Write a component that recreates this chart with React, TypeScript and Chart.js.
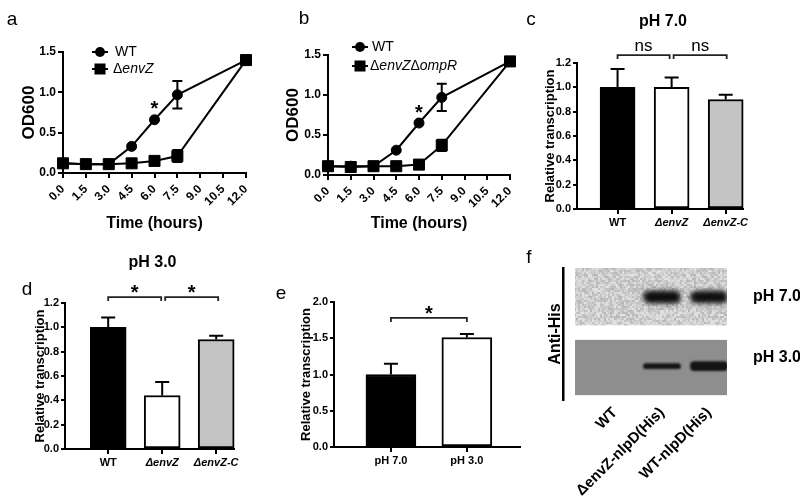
import React, { useEffect, useRef } from 'react';
import { Chart, registerables } from 'chart.js';
Chart.register(...registerables);

const FONT = '"Liberation Sans", Arial, Helvetica, sans-serif';
Chart.defaults.font.family = FONT;
Chart.defaults.color = '#000';

// ---------------- data: panels a / b (growth curves) ----------------
const timeHours = [0, 1.5, 3, 4.5, 6, 7.5, 12];
const timeTicks = [0, 1.5, 3, 4.5, 6, 7.5, 9, 10.5, 12];
const odTicks = [0, 0.5, 1.0, 1.5];

const wtOD_a = [0.12, 0.11, 0.11, 0.33, 0.66, 0.97, 1.4];
const wtErr_a = [0, 0, 0, 0, 0, 0.17, 0];
const envZOD_a = [0.12, 0.11, 0.11, 0.12, 0.15, 0.21, 1.4];
const envZErr_a = [0, 0, 0, 0, 0, 0.075, 0];
const starA = [{ x: 6, y: 0.86 }];

const wtOD_b = [0.11, 0.11, 0.11, 0.31, 0.65, 0.97, 1.42];
const wtErr_b = [0, 0, 0, 0, 0, 0.17, 0];
const dkOD_b = [0.11, 0.1, 0.11, 0.11, 0.13, 0.37, 1.42];
const dkErr_b = [0, 0, 0, 0, 0, 0.07, 0];
const starB = [{ x: 6, y: 0.85 }];

// ---------------- data: panels c / d / e (bars) ----------------
const strainCats = ['WT', 'ΔenvZ', 'ΔenvZ-C'];
const relTicks12 = [0, 0.2, 0.4, 0.6, 0.8, 1.0, 1.2];
const ph7Values = [1.0, 1.0, 0.9];
const ph7Err = [0.15, 0.08, 0.04];
const ph3Values = [1.0, 0.44, 0.9];
const ph3Err = [0.08, 0.11, 0.03];
const strainFills = ['#000000', '#ffffff', '#c4c4c4'];

const phCats = ['pH 7.0', 'pH 3.0'];
const relTicks2 = [0, 0.5, 1.0, 1.5, 2.0];
const nlpdValues = [1.0, 1.51];
const nlpdErr = [0.15, 0.05];
const phFills = ['#000000', '#ffffff'];

// ---------------- data: panel f (western blot) ----------------
const laneLabels = ['WT', 'ΔenvZ-nlpD(His)', 'WT-nlpD(His)'];
const blotConditions = ['pH 7.0', 'pH 3.0'];
const bandPH7 = [0, 1.0, 0.95];
const bandPH3 = [0, 0.42, 0.72];

// ---------------- helpers ----------------
type Box = { left: number; top: number; width: number; height: number };
const fixedWidth = (w: number) => (s: any) => { s.width = w; };
const fixedHeight = (h: number) => (s: any) => { s.height = h; };
const setTicks = (vals: number[]) => (s: any) => { s.ticks = vals.map((v) => ({ value: v })); };
const fnt = (size: number, weight = 'normal', italic = false) =>
  `${italic ? 'italic ' : ''}${weight} ${size}px ${FONT}`;

type Part = { t: string; i?: boolean };
function drawParts(ctx: any, parts: Part[], x: number, y: number, size: number, weight = 'normal') {
  let cx = x;
  parts.forEach((p) => {
    ctx.font = fnt(size, weight, !!p.i);
    ctx.fillText(p.t, cx, y);
    cx += ctx.measureText(p.t).width;
  });
}

const errorBars = {
  id: 'errorBars',
  afterDatasetsDraw(chart: any) {
    const ctx = chart.ctx;
    chart.data.datasets.forEach((ds: any, di: number) => {
      if (!ds.errors) return;
      const meta = chart.getDatasetMeta(di);
      const ys = chart.scales[meta.yAxisID];
      ctx.save();
      ctx.strokeStyle = '#000';
      ctx.lineWidth = ds.errWidth || 2;
      meta.data.forEach((el: any, i: number) => {
        const e = ds.errors[i];
        if (!e) return;
        const v = ds.data[i].y;
        const x = el.x;
        const top = ys.getPixelForValue(v + e);
        const bot = ds.errUp ? ys.getPixelForValue(v) : ys.getPixelForValue(v - e);
        const c = ds.errCap || 5;
        ctx.beginPath();
        ctx.moveTo(x, top);
        ctx.lineTo(x, bot);
        ctx.moveTo(x - c, top);
        ctx.lineTo(x + c, top);
        if (!ds.errUp) {
          ctx.moveTo(x - c, bot);
          ctx.lineTo(x + c, bot);
        }
        ctx.stroke();
      });
      ctx.restore();
    });
  },
};

type Bracket = { from: number; to: number; y: number; label: string; dl?: number; dr?: number };
type Marks = {
  title?: { text: string; dx: number; y: number };
  brackets?: Bracket[];
  stars?: { x: number; y: number }[];
  legend?: { x: number; y: number; textX: number; ds: number; parts: Part[] }[];
};

function makeMarks(m: Marks) {
  return {
    id: 'marks',
    afterDraw(chart: any) {
      const ctx = chart.ctx;
      const xs = chart.scales.x;
      const ys = chart.scales.y;
      const ca = chart.chartArea;
      ctx.save();
      ctx.fillStyle = '#000';
      if (m.title) {
        ctx.font = fnt(16, 'bold');
        ctx.textAlign = 'center';
        ctx.textBaseline = 'middle';
        ctx.fillText(m.title.text, (ca.left + ca.right) / 2 + m.title.dx, m.title.y);
      }
      (m.brackets || []).forEach((b) => {
        const x1 = xs.getPixelForValue(b.from) + (b.dl || 0);
        const x2 = xs.getPixelForValue(b.to) + (b.dr || 0);
        const y = ys.getPixelForValue(b.y);
        ctx.strokeStyle = '#222';
        ctx.lineWidth = 1.8;
        ctx.beginPath();
        ctx.moveTo(x1, y + 4);
        ctx.lineTo(x1, y);
        ctx.lineTo(x2, y);
        ctx.lineTo(x2, y + 4);
        ctx.stroke();
        ctx.textAlign = 'center';
        ctx.textBaseline = 'alphabetic';
        if (b.label === '*') {
          ctx.font = fnt(20, 'bold');
          ctx.fillText('*', (x1 + x2) / 2, y + 2);
        } else {
          ctx.font = fnt(17, 'normal');
          ctx.fillText(b.label, (x1 + x2) / 2, y - 4);
        }
      });
      (m.stars || []).forEach((s) => {
        ctx.font = fnt(20, 'bold');
        ctx.textAlign = 'center';
        ctx.textBaseline = 'alphabetic';
        ctx.fillText('*', xs.getPixelForValue(s.x), ys.getPixelForValue(s.y) + 11.5);
      });
      (m.legend || []).forEach((l) => {
        const ds = chart.data.datasets[l.ds];
        ctx.strokeStyle = '#000';
        ctx.lineWidth = 2;
        ctx.beginPath();
        ctx.moveTo(l.x - 8, l.y);
        ctx.lineTo(l.x + 8, l.y);
        ctx.stroke();
        ctx.fillStyle = '#000';
        if (ds.pointStyle === 'rect') {
          ctx.fillRect(l.x - 5.5, l.y - 5.5, 11, 11);
        } else {
          ctx.beginPath();
          ctx.arc(l.x, l.y, 5, 0, Math.PI * 2);
          ctx.fill();
        }
        ctx.textAlign = 'left';
        ctx.textBaseline = 'middle';
        drawParts(ctx, l.parts, l.textX, l.y, 14, 'normal');
      });
      ctx.restore();
    },
  };
}

// ---------------- chart configs ----------------
type Series = { label: string; values: number[]; errors: number[]; pointStyle: string; radius: number; order: number };

function lineConfig(series: Series[], pad: any, yW: number, xH: number, marks: Marks) {
  return {
    type: 'line',
    data: {
      datasets: series.map((s) => ({
        label: s.label,
        data: timeHours.map((t, i) => ({ x: t, y: s.values[i] })),
        errors: s.errors,
        errCap: 5,
        order: s.order,
        borderColor: '#000',
        backgroundColor: '#000',
        borderWidth: 2,
        pointStyle: s.pointStyle,
        pointRadius: s.radius,
        pointBackgroundColor: '#000',
        pointBorderColor: '#000',
        pointBorderWidth: 1,
        tension: 0,
        clip: false,
      })),
    },
    options: {
      animation: false,
      responsive: false,
      events: [],
      layout: { padding: pad },
      plugins: { legend: { display: false }, tooltip: { enabled: false }, title: { display: false } },
      scales: {
        x: {
          type: 'linear',
          min: 0,
          max: 12,
          afterBuildTicks: setTicks(timeTicks),
          afterFit: fixedHeight(xH),
          ticks: {
            callback: (v: any) => Number(v).toFixed(1),
            minRotation: 45,
            maxRotation: 45,
            autoSkip: false,
            padding: 4,
            font: { size: 12, weight: 'bold' },
          },
          grid: { drawOnChartArea: false, color: '#000', lineWidth: 2, tickLength: 5 },
          border: { color: '#000', width: 2 },
          title: { display: true, text: 'Time (hours)', font: { size: 16, weight: 'bold' }, padding: { top: 4, bottom: 4 } },
        },
        y: {
          type: 'linear',
          min: 0,
          max: 1.5,
          afterBuildTicks: setTicks(odTicks),
          afterFit: fixedWidth(yW),
          ticks: { callback: (v: any) => Number(v).toFixed(1), padding: 2, font: { size: 12, weight: 'bold' } },
          grid: { drawOnChartArea: false, color: '#000', lineWidth: 2, tickLength: 5 },
          border: { color: '#000', width: 2 },
          title: { display: true, text: 'OD600', font: { size: 17, weight: 'bold' }, padding: { top: 4, bottom: 4 } },
        },
      },
    },
    plugins: [errorBars, makeMarks(marks)],
  };
}

type BarSpec = {
  cats: string[];
  values: number[];
  errs: number[];
  fills: string[];
  italic: boolean[];
  yMax: number;
  yTicks: number[];
  xMin: number;
  xMax: number;
  barPx: number;
  pad: any;
  yW: number;
  xH: number;
  marks: Marks;
};

function barConfig(b: BarSpec) {
  return {
    type: 'bar',
    data: {
      datasets: [
        {
          label: 'Relative transcription',
          data: b.values.map((v, i) => ({ x: i, y: v })),
          errors: b.errs,
          errUp: true,
          errCap: 7,
          backgroundColor: b.fills,
          borderColor: '#000',
          borderWidth: 2,
          borderSkipped: false,
          barThickness: b.barPx,
          clip: false,
        },
      ],
    },
    options: {
      animation: false,
      responsive: false,
      events: [],
      layout: { padding: b.pad },
      plugins: { legend: { display: false }, tooltip: { enabled: false }, title: { display: false } },
      scales: {
        x: {
          type: 'linear',
          offset: false,
          min: b.xMin,
          max: b.xMax,
          afterBuildTicks: setTicks(b.cats.map((_, i) => i)),
          afterFit: fixedHeight(b.xH),
          ticks: {
            callback: (_v: any, i: number) => b.cats[i],
            maxRotation: 0,
            minRotation: 0,
            autoSkip: false,
            padding: 2,
            font: (c: any) => ({ size: 11, weight: 'bold', style: b.italic[c.index] ? 'italic' : 'normal' }),
          },
          grid: { offset: false, drawOnChartArea: false, color: '#000', lineWidth: 2, tickLength: 5 },
          border: { color: '#000', width: 2 },
        },
        y: {
          type: 'linear',
          min: 0,
          max: b.yMax,
          afterBuildTicks: setTicks(b.yTicks),
          afterFit: fixedWidth(b.yW),
          ticks: { callback: (v: any) => Number(v).toFixed(1), padding: 2, font: { size: 11, weight: 'bold' } },
          grid: { drawOnChartArea: false, color: '#000', lineWidth: 2, tickLength: 4 },
          border: { color: '#000', width: 2 },
          title: { display: true, text: 'Relative transcription', font: { size: 13, weight: 'bold' }, padding: { top: 4, bottom: 4 } },
        },
      },
    },
    plugins: [errorBars, makeMarks(b.marks)],
  };
}

// blot layout (rows of the membrane in row units, lanes in lane units)
const rowCenters = [0, 1];
const rowLabelPos = [0, 0.88];
const bandHalf = 0.09;
const blotRects = [
  { from: -0.42, to: 0.41, texture: true, color: '#cccccc' },
  { from: 0.62, to: 1.42, texture: false, color: '#8e8e8e' },
];
const blotLeft = -0.85;

let noiseCanvas: HTMLCanvasElement | null = null;
function getNoise() {
  if (noiseCanvas) return noiseCanvas;
  const w = 98;
  const h = 62;
  const c = document.createElement('canvas');
  c.width = w;
  c.height = h;
  const g = c.getContext('2d')!;
  const img = g.createImageData(w, h);
  for (let j = 0; j < h; j++) {
    for (let i = 0; i < w; i++) {
      const bi = Math.floor(i / 2);
      const bj = Math.floor(j / 2);
      const s = Math.sin(bi * 12.9898 + bj * 78.233) * 43758.5453;
      const f = s - Math.floor(s);
      const v = Math.round(182 + f * 46);
      const k = (j * w + i) * 4;
      img.data[k] = v;
      img.data[k + 1] = v;
      img.data[k + 2] = v;
      img.data[k + 3] = 255;
    }
  }
  g.putImageData(img, 0, 0);
  noiseCanvas = c;
  return c;
}

const blotPlugin = {
  id: 'blot',
  beforeDatasetsDraw(chart: any) {
    const ctx = chart.ctx;
    const xs = chart.scales.x;
    const ys = chart.scales.y;
    const x1 = xs.getPixelForValue(blotLeft);
    const x2 = chart.chartArea.right;
    ctx.save();
    blotRects.forEach((r) => {
      const y1 = ys.getPixelForValue(r.from);
      const y2 = ys.getPixelForValue(r.to);
      if (r.texture) {
        const p = ctx.createPattern(getNoise(), 'repeat');
        ctx.fillStyle = p || r.color;
      } else {
        ctx.fillStyle = r.color;
      }
      ctx.fillRect(x1, Math.min(y1, y2), x2 - x1, Math.abs(y2 - y1));
    });
    ctx.restore();
  },
  beforeDatasetDraw(chart: any, args: any) {
    const ds = chart.data.datasets[args.index];
    chart.ctx.save();
    chart.ctx.filter = `blur(${ds.blur || 0}px)`;
  },
  afterDatasetDraw(chart: any) {
    chart.ctx.restore();
  },
};

function blotConfig() {
  const bandData = (vals: number[], row: number) =>
    vals
      .map((v, i) => ({ v, i }))
      .filter((d) => d.v > 0)
      .map((d) => ({ x: d.i, y: [row - bandHalf * d.v, row + bandHalf * d.v] }));
  return {
    type: 'bar',
    data: {
      datasets: [
        {
          label: blotConditions[0],
          data: bandData(bandPH7, rowCenters[0]),
          backgroundColor: '#0e0e0e',
          barThickness: 37,
          borderRadius: 7,
          borderSkipped: false,
          grouped: false,
          blur: 2.5,
        },
        {
          label: blotConditions[1],
          data: bandData(bandPH3, rowCenters[1]),
          backgroundColor: '#141414',
          barThickness: 37,
          borderRadius: 4,
          borderSkipped: false,
          grouped: false,
          blur: 1.3,
        },
      ],
    },
    options: {
      animation: false,
      responsive: false,
      events: [],
      layout: { padding: { left: 18, top: 28, right: 0, bottom: 0 } },
      plugins: { legend: { display: false }, tooltip: { enabled: false }, title: { display: false } },
      scales: {
        x: {
          type: 'linear',
          offset: false,
          min: -1.106,
          max: 2.383,
          afterBuildTicks: setTicks(laneLabels.map((_, i) => i)),
          afterFit: fixedHeight(102),
          ticks: {
            callback: (_v: any, i: number) => laneLabels[i],
            minRotation: 45,
            maxRotation: 45,
            autoSkip: false,
            padding: 4,
            font: { size: 15, weight: 'bold' },
          },
          grid: { display: false, drawTicks: false, offset: false },
          border: { display: false },
        },
        y: {
          type: 'linear',
          reverse: true,
          min: -0.42,
          max: 1.49,
          position: 'left',
          afterFit: fixedWidth(21),
          ticks: { display: false },
          grid: { display: false, drawTicks: false },
          border: { display: true, color: '#000', width: 2.5 },
          title: { display: true, text: 'Anti-His', font: { size: 16, weight: 'bold' }, padding: { top: 4, bottom: 4 } },
        },
        y2: {
          type: 'linear',
          reverse: true,
          min: -0.42,
          max: 1.49,
          position: 'right',
          afterBuildTicks: setTicks(rowLabelPos),
          afterFit: fixedWidth(73),
          ticks: { callback: (_v: any, i: number) => blotConditions[i], padding: 0, font: { size: 16, weight: 'bold' } },
          grid: { display: true, drawOnChartArea: false, drawTicks: true, tickLength: 26, color: 'rgba(0,0,0,0)' },
          border: { display: false },
        },
      },
    },
    plugins: [blotPlugin],
  };
}

// ---------------- components ----------------
function Panel({ box, make }: { box: Box; make: () => any }) {
  const ref = useRef<HTMLCanvasElement>(null);
  useEffect(() => {
    const chart = new Chart(ref.current as HTMLCanvasElement, make());
    return () => chart.destroy();
  }, []);
  return (
    <canvas
      ref={ref}
      width={box.width}
      height={box.height}
      style={{ position: 'absolute', left: box.left, top: box.top, width: box.width, height: box.height }}
    />
  );
}

const letters = [
  { t: 'a', x: 12, y: 18 },
  { t: 'b', x: 304, y: 17 },
  { t: 'c', x: 531, y: 18 },
  { t: 'd', x: 27, y: 288 },
  { t: 'e', x: 281, y: 292 },
  { t: 'f', x: 529, y: 256 },
];

export default function App() {
  return (
    <div style={{ position: 'absolute', left: 0, top: 0, width: 800, height: 502, background: '#fff', overflow: 'hidden' }}>
      <Panel
        box={{ left: 0, top: 0, width: 268, height: 240 }}
        make={() =>
          lineConfig(
            [
              { label: 'WT', values: wtOD_a, errors: wtErr_a, pointStyle: 'circle', radius: 5, order: 1 },
              { label: 'ΔenvZ', values: envZOD_a, errors: envZErr_a, pointStyle: 'rect', radius: 7.8, order: 0 },
            ],
            { left: 15, top: 52, right: 22, bottom: 3 },
            48,
            64,
            {
              stars: starA,
              legend: [
                { x: 100, y: 52, textX: 115, ds: 0, parts: [{ t: 'WT' }] },
                { x: 100, y: 69, textX: 113, ds: 1, parts: [{ t: 'Δ' }, { t: 'envZ', i: true }] },
              ],
            }
          )
        }
      />
      <Panel
        box={{ left: 262, top: 0, width: 268, height: 240 }}
        make={() =>
          lineConfig(
            [
              { label: 'WT', values: wtOD_b, errors: wtErr_b, pointStyle: 'circle', radius: 5, order: 1 },
              { label: 'ΔenvZΔompR', values: dkOD_b, errors: dkErr_b, pointStyle: 'rect', radius: 7.8, order: 0 },
            ],
            { left: 17, top: 55, right: 20, bottom: 3 },
            49,
            62,
            {
              stars: starB,
              legend: [
                { x: 98, y: 47, textX: 110, ds: 0, parts: [{ t: 'WT' }] },
                {
                  x: 98,
                  y: 66,
                  textX: 108,
                  ds: 1,
                  parts: [{ t: 'Δ' }, { t: 'envZ', i: true }, { t: 'Δ' }, { t: 'ompR', i: true }],
                },
              ],
            }
          )
        }
      />
      <Panel
        box={{ left: 524, top: 0, width: 276, height: 240 }}
        make={() =>
          barConfig({
            cats: strainCats,
            values: ph7Values,
            errs: ph7Err,
            fills: strainFills,
            italic: [false, true, true],
            yMax: 1.2,
            yTicks: relTicks12,
            xMin: -0.75,
            xMax: 2.32,
            barPx: 35,
            pad: { left: 15, top: 63, right: 57, bottom: 1 },
            yW: 38,
            xH: 30,
            marks: {
              title: { text: 'pH 7.0', dx: 3, y: 22 },
              brackets: [
                { from: 0, to: 1, y: 1.265, label: 'ns', dr: -2 },
                { from: 1, to: 2, y: 1.265, label: 'ns', dl: 2, dr: 1 },
              ],
            },
          })
        }
      />
      <Panel
        box={{ left: 0, top: 240, width: 262, height: 240 }}
        make={() =>
          barConfig({
            cats: strainCats,
            values: ph3Values,
            errs: ph3Err,
            fills: strainFills,
            italic: [false, true, true],
            yMax: 1.2,
            yTicks: relTicks12,
            xMin: -0.8,
            xMax: 2.33,
            barPx: 36,
            pad: { left: 29, top: 63, right: 28, bottom: 1 },
            yW: 36,
            xH: 30,
            marks: {
              title: { text: 'pH 3.0', dx: 3, y: 23 },
              brackets: [
                { from: 0, to: 1, y: 1.249, label: '*', dr: -1 },
                { from: 1, to: 2, y: 1.249, label: '*', dl: 3, dr: 2 },
              ],
            },
          })
        }
      />
      <Panel
        box={{ left: 262, top: 240, width: 270, height: 240 }}
        make={() =>
          barConfig({
            cats: phCats,
            values: nlpdValues,
            errs: nlpdErr,
            fills: phFills,
            italic: [false, false],
            yMax: 2.0,
            yTicks: relTicks2,
            xMin: -0.75,
            xMax: 1.7,
            barPx: 50,
            pad: { left: 33, top: 62, right: 12, bottom: 3 },
            yW: 39,
            xH: 30,
            marks: {
              brackets: [{ from: 0, to: 1, y: 1.78, label: '*' }],
            },
          })
        }
      />
      <Panel box={{ left: 524, top: 240, width: 276, height: 262 }} make={() => blotConfig()} />
      {letters.map((l) => (
        <div
          key={l.t}
          style={{
            position: 'absolute',
            left: l.x,
            top: l.y,
            transform: 'translate(-50%, -50%)',
            font: `19px ${FONT}`,
            lineHeight: 1,
            color: '#000',
          }}
        >
          {l.t}
        </div>
      ))}
    </div>
  );
}
